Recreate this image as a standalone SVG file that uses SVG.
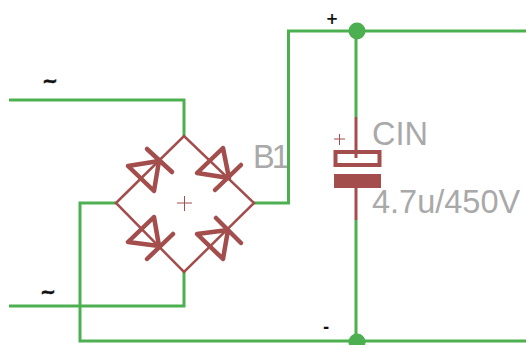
<svg xmlns="http://www.w3.org/2000/svg" width="526" height="345" viewBox="0 0 526 345">
<style>
.w{fill:none;stroke:#4caf50;stroke-width:3}
.r{fill:none;stroke:#a34d4d;stroke-width:2.500;stroke-linecap:round}
.t{fill:none;stroke:#a34d4d;stroke-width:1}
.s{fill:none;stroke:#a34d4d;stroke-width:3}
.d{fill:none;stroke:#a34d4d;stroke-width:4.500;stroke-linecap:round;stroke-linejoin:round}
.g{font-family:"Liberation Sans",Arial,sans-serif;font-size:32.500px;fill:#a9a9a9}
.k{font-family:"DejaVu Sans",sans-serif;font-size:15px;font-weight:bold;fill:#111;text-anchor:middle}
.n{font-size:19px;stroke:#111;stroke-width:.5}
</style>
<rect width="526" height="345" fill="#fff"/>
<g id="labels-bridge"><text class="g" x="253" y="168" letter-spacing="-3">B1</text></g>
<g id="connectors">
<path class="w" d="M9 100H184V137"/>
<path class="w" d="M9 306H184V272"/>
<path class="w" d="M116 203H80V341H526"/>
<path class="w" d="M254 203H288.500V31H526"/>
<path class="w" d="M356 31V117"/>
<path class="w" d="M356 220V341"/>
</g>
<g id="B1">
<path class="r" d="M116 203L184 136L254 203L184 272Z"/>
<path class="t" d="M177 203H192M184.500 196V211"/>
<path class="d" d="M159 161L128 166L154 191ZM147 149L172 172"/>
<path class="d" d="M229 178L223 148L197 173ZM215 190L241 165"/>
<path class="d" d="M159 246L154 217L128 242ZM147 259L173 234"/>
<path class="d" d="M228 230L197 234L223 259ZM216 218L241 243"/>
</g>
<g id="CIN">
<path class="s" d="M356 117V158M356 188V220"/>
<rect x="335.500" y="152" width="44" height="13" fill="none" stroke="#a34d4d" stroke-width="4"/>
<rect x="334" y="174" width="47" height="14" fill="#a34d4d"/>
<path class="t" d="M334 139H345M339.500 134V145"/>
<text class="g" x="372" y="145">CIN</text>
<text class="g" x="372" y="213">4.7u/450V</text>
</g>
<g id="junction-top"><circle cx="357" cy="31" r="8.500" fill="#4caf50"/></g>
<g id="junction-bottom"><circle cx="357" cy="342" r="8.500" fill="#4caf50"/></g>
<g id="net-labels">
<text class="k n" x="50" y="87">~</text>
<text class="k n" x="48" y="298">~</text>
<text class="k" x="332" y="24">+</text>
<text class="k" x="326" y="332">-</text>
</g>
</svg>
